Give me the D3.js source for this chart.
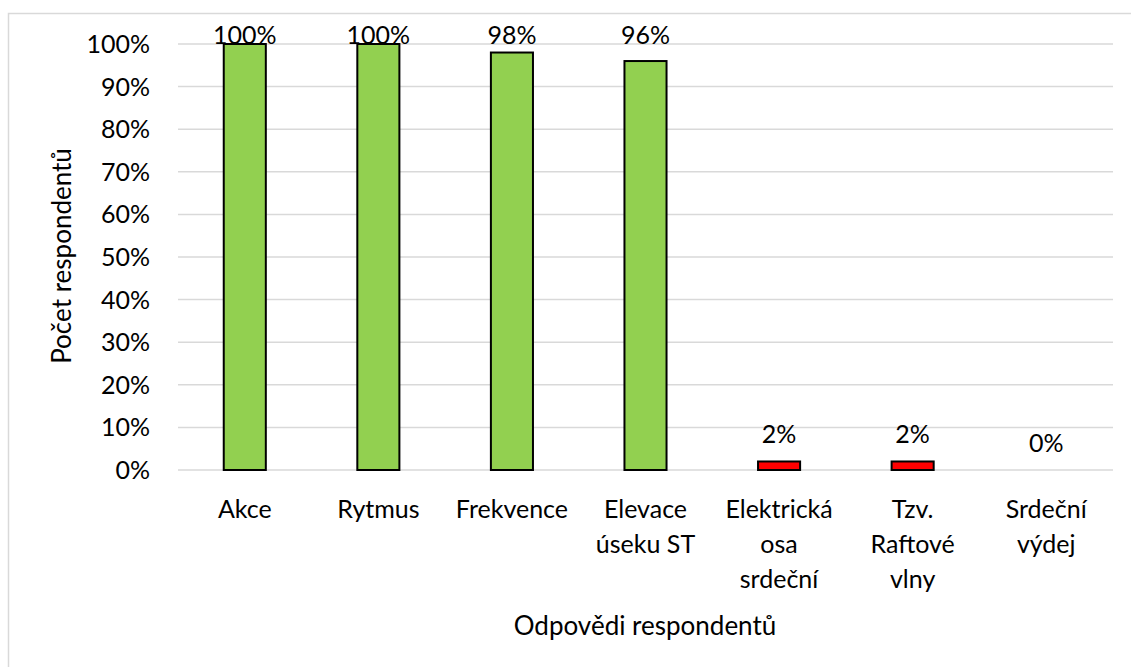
<!DOCTYPE html>
<html>
<head>
<meta charset="utf-8">
<script src="https://cdn.jsdelivr.net/npm/d3@7"></script>
<style>
  body { margin: 0; background: #fff; }
  text { font-family: Lato, "Open Sans", sans-serif; fill: #000; }
</style>
</head>
<body>
<div id="root"></div>
<script>
const categories = ["Akce", "Rytmus", "Frekvence", "Elevace úseku ST", "Elektrická osa srdeční", "Tzv. Raftové vlny", "Srdeční výdej"];
const catLines = [["Akce"], ["Rytmus"], ["Frekvence"], ["Elevace", "úseku ST"], ["Elektrická", "osa", "srdeční"], ["Tzv.", "Raftové", "vlny"], ["Srdeční", "výdej"]];
const values = [100, 100, 98, 96, 2, 2, 0];
const barColors = ["#92D050", "#92D050", "#92D050", "#92D050", "#FF0000", "#FF0000", "#FF0000"];
const yTicks = [0, 10, 20, 30, 40, 50, 60, 70, 80, 90, 100];

const width = 1131, height = 667;
const margin = {top: 44, right: 18, bottom: 197, left: 178};
const fontSize = "25px";

const svg = d3.select("#root").append("svg")
    .attr("width", width)
    .attr("height", height);

// chart frame
svg.append("rect")
    .attr("x", 8.5).attr("y", 13.5)
    .attr("width", 1140).attr("height", 700)
    .attr("fill", "none")
    .attr("stroke", "#d9d9d9")
    .attr("stroke-width", 1.5);

const x = d3.scaleBand()
    .domain(categories)
    .range([margin.left, width - margin.right])
    .paddingInner(0.685)
    .paddingOuter(0.3425);

const y = d3.scaleLinear()
    .domain([0, 100])
    .range([height - margin.bottom, margin.top]);

// gridlines
svg.append("g")
    .selectAll("line")
    .data(yTicks)
    .enter()
    .append("line")
    .attr("x1", margin.left)
    .attr("x2", width - margin.right)
    .attr("y1", d => y(d))
    .attr("y2", d => y(d))
    .attr("stroke", "#d9d9d9")
    .attr("stroke-width", 1.5);

// y tick labels
svg.append("g")
    .selectAll("text")
    .data(yTicks)
    .enter()
    .append("text")
    .attr("x", 150)
    .attr("y", d => y(d))
    .attr("dy", "0.36em")
    .attr("text-anchor", "end")
    .style("font-size", fontSize)
    .text(d => d + "%");

// bars
svg.append("g")
    .selectAll("rect")
    .data(values)
    .enter()
    .append("rect")
    .attr("x", (d, i) => x(categories[i]))
    .attr("y", d => y(d))
    .attr("width", x.bandwidth())
    .attr("height", d => y(0) - y(d))
    .attr("fill", (d, i) => barColors[i])
    .attr("stroke", "#000")
    .attr("stroke-width", d => d > 0 ? 2 : 0);

// value labels (clamped inside the plot top like Excel)
svg.append("g")
    .selectAll("text")
    .data(values)
    .enter()
    .append("text")
    .attr("x", (d, i) => x(categories[i]) + x.bandwidth() / 2)
    .attr("y", d => Math.max(y(d) - 27, 35))
    .attr("dy", "0.36em")
    .attr("text-anchor", "middle")
    .style("font-size", fontSize)
    .text(d => d + "%");

// category labels
const catG = svg.append("g")
    .selectAll("text")
    .data(catLines)
    .enter()
    .append("text")
    .attr("x", (d, i) => x(categories[i]) + x.bandwidth() / 2)
    .attr("y", 509)
    .attr("text-anchor", "middle")
    .style("font-size", fontSize);

catG.selectAll("tspan")
    .data(d => d)
    .enter()
    .append("tspan")
    .attr("x", function() { return d3.select(this.parentNode).attr("x"); })
    .attr("y", (d, j) => 509 + j * 35)
    .attr("dy", "0.36em")
    .text(d => d);

// axis titles
svg.append("text")
    .attr("x", 645)
    .attr("y", 626)
    .attr("dy", "0.36em")
    .attr("text-anchor", "middle")
    .style("font-size", "26px")
    .text("Odpovědi respondentů");

svg.append("text")
    .attr("transform", "translate(62,256) rotate(-90)")
    .attr("dy", "0.36em")
    .attr("text-anchor", "middle")
    .style("font-size", "26px")
    .text("Počet respondentů");
</script>
</body>
</html>
